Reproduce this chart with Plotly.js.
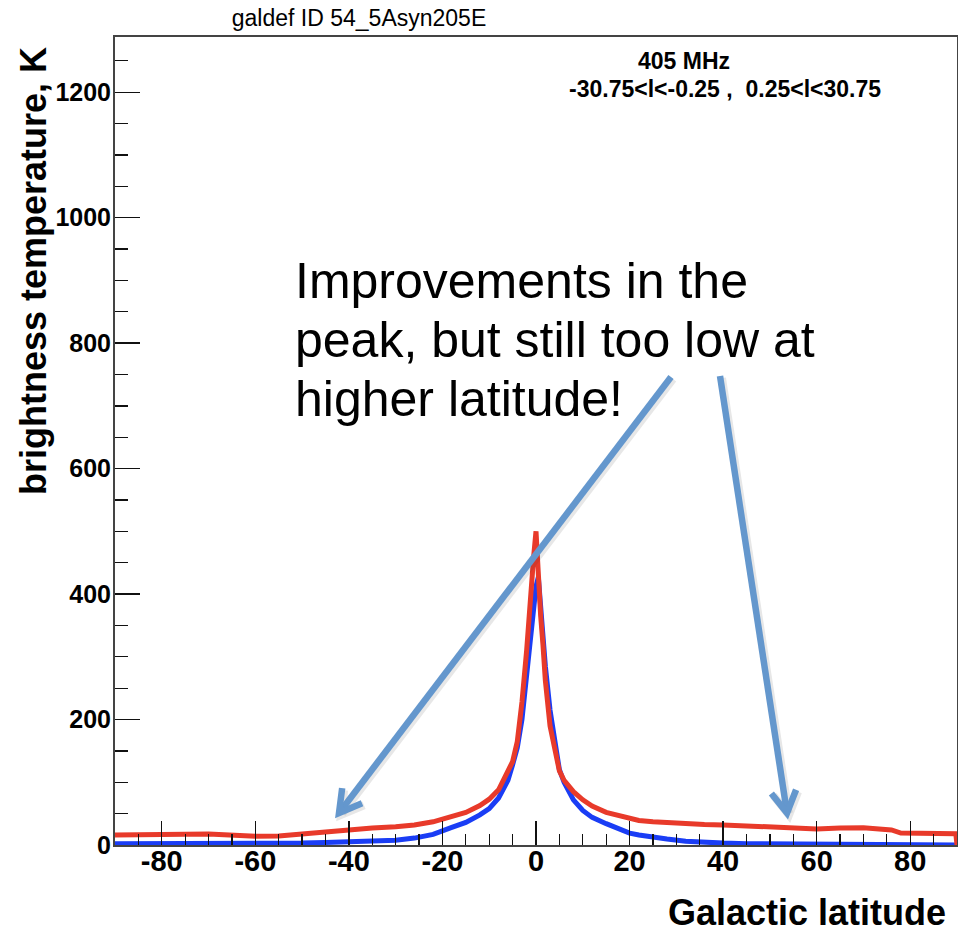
<!DOCTYPE html>
<html>
<head>
<meta charset="utf-8">
<script src="https://cdn.plot.ly/plotly-3.0.1.min.js"></script>
<style>
  html, body { margin: 0; padding: 0; background: #ffffff; }
  #chart { width: 958px; height: 933px; }
</style>
</head>
<body>
<div id="chart"></div>
<script>
// Galactic latitude profile of 405 MHz brightness temperature (K)
const latitude = [-90, -85, -80, -75, -70, -65, -60, -55, -50, -45, -40, -35, -30, -26, -22, -18,
  -15, -12, -10, -8, -6, -5, -4, -3, -2, -1.5, -1, -0.5, 0, 0.5, 1, 1.5, 2, 3, 4, 5, 6, 8,
  10, 12, 15, 18, 20, 22, 25, 28, 32, 36, 40, 45, 50, 55, 60, 65, 70, 74, 76, 78, 80, 84,
  88, 89.75, 90];

// survey data (red)
const tempData = [16, 17, 17.5, 17, 17.5, 16, 14, 14.5, 18, 22, 25, 27, 29, 32, 37, 45,
  52, 63, 73, 88, 117, 133, 165, 228, 310, 370, 420, 460, 500, 422, 365, 318, 262, 190, 150, 118, 103, 85,
  72, 62, 52, 46, 43, 39, 37, 35.5, 33.5, 32.5, 32, 30.5, 29, 27.5, 25.5, 27, 27.5, 25, 24, 19, 18.5, 18,
  18, 18, 0];

// GALPROP model 54_5Asyn205E (blue)
const tempModel = [2, 2, 2, 2, 2, 2, 2, 2.5, 3, 4, 5, 6, 7.5, 11, 17, 28,
  36, 48, 58, 75, 103, 128, 155, 200, 275, 310, 350, 385, 412, 427, 375, 330, 285, 215, 168, 120, 100, 72,
  55, 44, 34, 24, 19, 16, 12, 9.5, 6, 4, 3, 2, 2, 1.5, 1.5, 1.5, 1.5, 1.5, 1.5, 1.5, 1.5, 1.5,
  1.5, 1.5, 0];

const xTickVals = [-80, -60, -40, -20, 0, 20, 40, 60, 80];
const yTickVals = [0, 200, 400, 600, 800, 1000, 1200];

// frame geometry in page pixels
const W = 958, H = 933;
const M = { l: 115, r: 1, t: 37, b: 88 };
const PW = W - M.l - M.r, PH = H - M.t - M.b;
const fx = px => (px - M.l) / PW;
const fy = py => (M.t + PH - py) / PH;

const FONT = '"Liberation Sans", Arial, Helvetica, sans-serif';
const ARROW = '#6497cd';

const traces = [
  { x: latitude, y: tempModel, type: 'scatter', mode: 'lines',
    line: { color: '#1a3df5', width: 5 }, hoverinfo: 'skip', name: 'model' },
  { x: latitude, y: tempData, type: 'scatter', mode: 'lines',
    line: { color: '#e83a2a', width: 5 }, hoverinfo: 'skip', name: 'data' }
];

// callout arrows: shaft plus chevron head
function arrowShapes(tail, tip, shadow) {
  const dx = tail[0] - tip[0], dy = tail[1] - tip[1];
  const len = Math.hypot(dx, dy);
  const ux = dx / len, uy = dy / len;
  const ang = 30 * Math.PI / 180, armLen = 25;
  const rot = a => [tip[0] + armLen * (ux * Math.cos(a) - uy * Math.sin(a)),
                    tip[1] + armLen * (ux * Math.sin(a) + uy * Math.cos(a))];
  const a1 = rot(ang), a2 = rot(-ang);
  const off = shadow ? 2 : 0;
  const col = shadow ? 'rgba(60,60,60,0.12)' : ARROW;
  const w = shadow ? 8 : 6.5;
  const p = pt => fx(pt[0] + off).toFixed(5) + ',' + fy(pt[1] + off).toFixed(5);
  return [
    { type: 'line', xref: 'paper', yref: 'paper',
      x0: fx(tail[0] + off), y0: fy(tail[1] + off),
      x1: fx(tip[0] + ux * 2 + off), y1: fy(tip[1] + uy * 2 + off),
      line: { color: col, width: w } },
    { type: 'path', xref: 'paper', yref: 'paper',
      path: 'M' + p(a1) + ' L' + p(tip) + ' L' + p(a2),
      line: { color: col, width: w } }
  ];
}

const shapes = [].concat(
  arrowShapes([671, 377], [339, 813], true),
  arrowShapes([720, 376], [787, 813], true),
  arrowShapes([671, 377], [339, 813], false),
  arrowShapes([720, 376], [787, 813], false)
);

const calloutLines = ['Improvements in the', 'peak, but still too low at', 'higher latitude!'];
const calloutY = [281, 340, 399];

const annotations = [
  { text: '405 MHz', xref: 'paper', yref: 'paper', x: fx(684), y: fy(61),
    xanchor: 'center', yanchor: 'middle', showarrow: false,
    font: { family: FONT, size: 23, color: '#000', weight: 'bold' } },
  { text: '-30.75&lt;l&lt;-0.25 ,  0.25&lt;l&lt;30.75', xref: 'paper', yref: 'paper', x: fx(725), y: fy(89),
    xanchor: 'center', yanchor: 'middle', showarrow: false,
    font: { family: FONT, size: 23, color: '#000', weight: 'bold' } },
  { text: 'brightness temperature, K', xref: 'paper', yref: 'paper', x: fx(33), y: fy(271),
    xanchor: 'center', yanchor: 'middle', textangle: -90, showarrow: false,
    font: { family: FONT, size: 36, color: '#000', weight: 'bold' } },
  { text: 'Galactic latitude', xref: 'paper', yref: 'paper', x: fx(948), y: fy(912),
    xanchor: 'right', yanchor: 'middle', showarrow: false,
    font: { family: FONT, size: 36, color: '#000', weight: 'bold' } }
].concat(calloutLines.map((t, i) => ({
  text: t, xref: 'paper', yref: 'paper', x: fx(293), y: fy(calloutY[i]),
  xanchor: 'left', yanchor: 'middle', showarrow: false,
  font: { family: FONT, size: 50, color: '#000' }
})));

const layout = {
  width: W, height: H,
  margin: M,
  paper_bgcolor: '#ffffff', plot_bgcolor: '#ffffff',
  showlegend: false,
  title: { text: 'galdef ID 54_5Asyn205E', x: 359 / W, xanchor: 'center',
           y: 1 - 18 / H, yanchor: 'middle', font: { family: FONT, size: 23, color: '#000' } },
  xaxis: {
    range: [-90, 90], tickmode: 'array', tickvals: xTickVals, ticktext: xTickVals.map(String),
    ticks: 'inside', ticklen: 24, tickwidth: 1.3, tickcolor: '#111',
    minor: { dtick: 5, tick0: 0, ticks: 'inside', ticklen: 11, tickwidth: 1.3, tickcolor: '#111', showgrid: false },
    showline: true, linecolor: '#444', linewidth: 2, mirror: true,
    showgrid: false, zeroline: false, ticklabelstandoff: -11,
    tickfont: { family: FONT, size: 29, color: '#000', weight: 'bold' },
    fixedrange: true
  },
  yaxis: {
    range: [0, 1288], tickmode: 'array', tickvals: yTickVals, ticktext: yTickVals.map(String),
    ticks: 'inside', ticklen: 25, tickwidth: 1.3, tickcolor: '#111',
    minor: { dtick: 50, tick0: 0, ticks: 'inside', ticklen: 13, tickwidth: 1.3, tickcolor: '#111', showgrid: false },
    showline: true, linecolor: '#444', linewidth: 2, mirror: true,
    showgrid: false, zeroline: false, ticklabelstandoff: -3,
    tickfont: { family: FONT, size: 25, color: '#000', weight: 'bold' },
    fixedrange: true
  },
  shapes: shapes,
  annotations: annotations
};

Plotly.newPlot('chart', traces, layout, { displayModeBar: false, staticPlot: true });
</script>
</body>
</html>
